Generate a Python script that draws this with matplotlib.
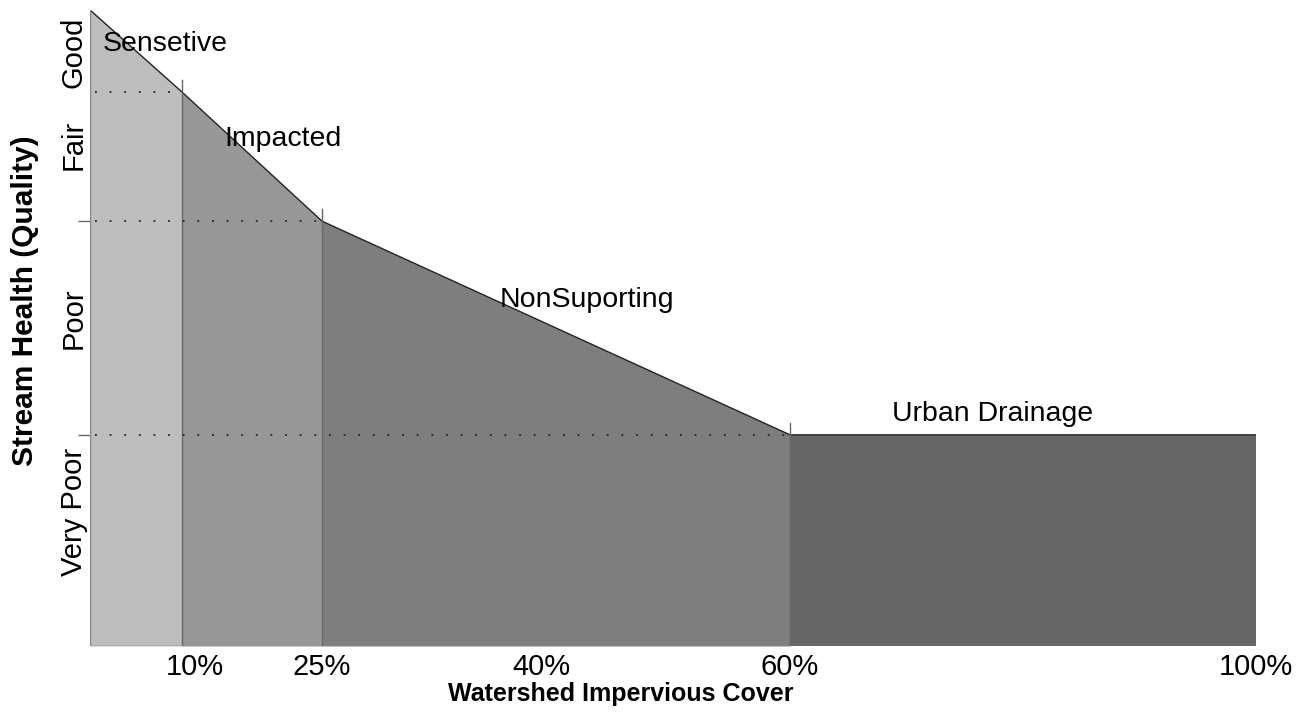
import numpy as np
import matplotlib.pyplot as plt
import matplotlib.transforms as mtransforms

# boundaries between stream categories (% impervious cover) and stream health at each
cover_pct = [0, 10, 25, 60, 100]
health = [100, 87.1, 66.8, 33.2, 33.2]
zone_names = ["Sensetive", "Impacted", "NonSuporting", "Urban Drainage"]
zone_colors = ["#bdbdbd", "#979797", "#7e7e7e", "#666666"]
label_x = [8.2, 20.8, 44.8, 77.4]
label_y = [94.7, 79.7, 54.4, 36.5]

quality_names = ["Good", "Fair", "Poor", "Very Poor"]
quality_y = [93.4, 78.8, 51.6, 21.1]

tick_pct = [10, 25, 40, 60, 100]
tick_labels = ["10%", "25%", "40%", "60%", "100%"]

# the drawing is not to scale, so the x axis is stretched piece by piece
axis_pos = np.array([0, 92, 232, 700, 1166]) / 1166.0


def fwd(x):
    return np.interp(x, cover_pct, axis_pos)


def inv(x):
    return np.interp(x, axis_pos, cover_pct)


plt.rcParams['font.family'] = ['Liberation Sans', 'DejaVu Sans']

fig = plt.figure(figsize=(13.15, 7.15), dpi=100)
ax = fig.add_axes([90 / 1315, 1 - 646 / 715, 1166 / 1315, 636 / 715])
ax.set_xscale('function', functions=(fwd, inv))
ax.set_xlim(0, 100)
ax.set_ylim(0, 100)

# filled zones under the curve
for i in range(4):
    xs = [cover_pct[i], cover_pct[i + 1]]
    ys = [health[i], health[i + 1]]
    ax.fill_between(xs, 0, ys, color=zone_colors[i], linewidth=0)
    ax.text(label_x[i], label_y[i], zone_names[i], fontsize=20.5,
            ha='center', va='center', color='black')

ax.plot(cover_pct, health, color='#222222', linewidth=1)
ax.plot([0, 100], [0, 0], color='#888888', linewidth=1)
ax.plot([0, 0], [0, 100], color='#888888', linewidth=1)
ax.plot([100, 100], [0, health[-1]], color='#555555', linewidth=0.8)

# vertical boundaries + dotted guides to the left edge
for i in range(1, 4):
    ax.plot([cover_pct[i], cover_pct[i]], [0, health[i] + 1.9],
            color='#666666', linewidth=1)
    ax.plot([0.5, cover_pct[i]], [health[i], health[i]], color='#222222',
            linewidth=1.3, linestyle=(0, (1, 7.1)))

# quality labels on the left
trans = mtransforms.blended_transform_factory(ax.transAxes, ax.transData)
for name, y in zip(quality_names, quality_y):
    ax.text(-0.014, y, name, rotation=90, fontsize=21, ha='center',
            va='center', transform=trans)

for s in ax.spines.values():
    s.set_visible(False)

ax.set_yticks([health[2], health[3]])
ax.set_yticklabels([])
ax.tick_params(axis='y', length=9, color='#666666', width=1)

ax.set_xticks(tick_pct)
ax.set_xticklabels(tick_labels, fontsize=21)
ax.tick_params(axis='x', length=0, pad=5)
# the 10% and 40% labels sit a little right of their positions in the original
for lbl, dx in zip(ax.get_xticklabels(), [13, 0, 19, 0, 0]):
    lbl.set_transform(lbl.get_transform() + mtransforms.ScaledTranslation(dx / 100, 0, fig.dpi_scale_trans))

fig.text(621 / 1315, 1 - 694 / 715, "Watershed Impervious Cover", fontsize=18,
         fontweight='bold', ha='center', va='center')
fig.text(25 / 1315, 1 - 301 / 715, "Stream Health (Quality)", fontsize=21.5,
         fontweight='bold', ha='center', va='center', rotation=90)

fig.savefig("out.png", dpi=100)
